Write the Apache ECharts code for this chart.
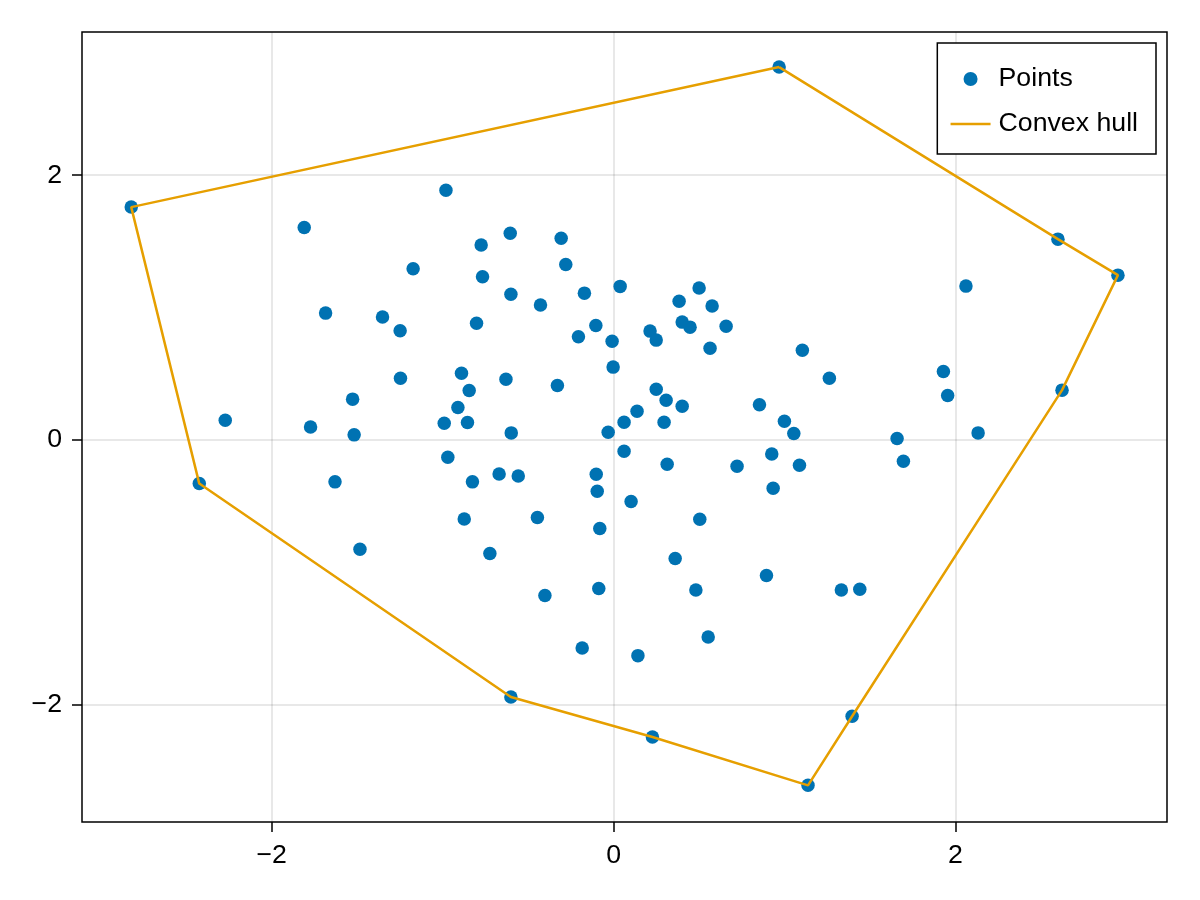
<!DOCTYPE html>
<html>
<head>
    <meta charset="utf-8">
    <title>Convex hull</title>
    <script src="https://cdn.jsdelivr.net/npm/echarts@6/dist/echarts.min.js"></script>
    <style>
        * {
            margin: 0;
            padding: 0;
        }
        body, html {
            background: #fff;
        }
        #main {
            width: 1200px;
            height: 900px;
        }
    </style>
</head>
<body>
<div id="main"></div>
<script>
    // random points
    var pointsX = [
        0.968, -2.822, -0.981, -1.810, -0.775, -0.605, -0.307, -1.173, -0.280, -0.767,
        -0.601, -0.171, 0.038, 0.500, 0.383, 0.576, -0.428, -1.685, -1.352, -1.249,
        -0.802, -0.104, -0.206, -0.009, 0.213, 0.249, 0.401, 0.447, 0.658, 0.564,
        1.104, 2.061, 2.599, 2.950, -0.003, 1.262, 1.929, -1.247, -0.890, -0.630,
        -0.329, 0.249, -0.845, -1.527, 0.307, 0.401, 0.853, 1.954, 2.623, -2.272,
        -0.911, 0.137, -0.991, -0.855, 0.061, 0.295, 0.999, -1.773, -1.518, -0.599,
        -0.032, 1.054, 2.132, 1.658, 0.061, -0.970, 1.695, 0.313, 0.722, 1.087,
        0.925, -0.102, -0.670, -0.558, -1.630, -2.424, -0.826, -0.096, 0.933, 0.102,
        -0.874, -0.446, 0.504, -0.081, -1.484, -0.724, 0.360, 0.894, -0.087, 0.481,
        1.332, 1.440, -0.402, 0.553, -0.184, 0.142, -0.601, 0.227, 1.395, 1.137
    ];
    var pointsY = [
        2.817, 1.759, 1.887, 1.605, 1.472, 1.562, 1.524, 1.293, 1.326, 1.232,
        1.101, 1.109, 1.160, 1.147, 1.048, 1.011, 1.020, 0.958, 0.928, 0.824,
        0.882, 0.865, 0.779, 0.746, 0.822, 0.754, 0.890, 0.852, 0.859, 0.693,
        0.678, 1.162, 1.517, 1.245, 0.550, 0.466, 0.517, 0.466, 0.504, 0.459,
        0.411, 0.383, 0.373, 0.308, 0.300, 0.255, 0.265, 0.336, 0.376, 0.149,
        0.245, 0.217, 0.126, 0.132, 0.134, 0.134, 0.141, 0.098, 0.038, 0.053,
        0.058, 0.048, 0.053, 0.011, -0.085, -0.131, -0.161, -0.184, -0.199, -0.191,
        -0.106, -0.259, -0.257, -0.272, -0.317, -0.330, -0.317, -0.388, -0.365, -0.466,
        -0.597, -0.587, -0.599, -0.670, -0.826, -0.859, -0.896, -1.024, -1.123, -1.134,
        -1.134, -1.129, -1.176, -1.489, -1.572, -1.630, -1.943, -2.245, -2.088, -2.610
    ];

    // hull vertices, closed
    var hullX = [0.968, 2.599, 2.950, 2.623, 1.395, 1.137, 0.227, -0.601, -2.424, -2.822, 0.968];
    var hullY = [2.817, 1.517, 1.245, 0.376, -2.088, -2.610, -2.245, -1.943, -0.330, 1.759, 2.817];

    var xTicks = [-2, 0, 2];
    var yTicks = [-2, 0, 2];

    var font = 'Liberation Sans';
    var fontSize = 26.7;

    var points = [];
    for (var i = 0; i < pointsX.length; i++) {
        points.push([pointsX[i], pointsY[i]]);
    }
    var hull = [];
    for (var j = 0; j < hullX.length; j++) {
        hull.push([hullX[j], hullY[j]]);
    }

    function minus(v) {
        return String(v).replace('-', '\u2212');
    }

    var chart = echarts.init(document.getElementById('main'));
    var option = {
        animation: false,
        backgroundColor: '#fff',
        grid: {
            left: 82,
            right: 33,
            top: 32,
            bottom: 78,
            show: true,
            borderColor: '#000',
            borderWidth: 1.5,
            backgroundColor: 'transparent'
        },
        legend: {
            right: 44,
            top: 43,
            orient: 'vertical',
            align: 'left',
            backgroundColor: '#fff',
            borderColor: '#000',
            borderWidth: 1.5,
            borderRadius: 0,
            padding: [22, 18, 16, 12],
            itemGap: 17,
            itemWidth: 40,
            itemHeight: 14,
            textStyle: {
                fontFamily: font,
                fontSize: fontSize,
                lineHeight: 28,
                color: '#000',
                padding: [0, 0, 0, 3]
            },
            data: [
                {name: 'Points', icon: 'circle'},
                {
                    name: 'Convex hull',
                    itemStyle: {color: 'rgba(0,0,0,0)', borderWidth: 0, opacity: 0},
                    lineStyle: {color: '#E69F00', width: 2.5}
                }
            ]
        },
        xAxis: {
            type: 'value',
            min: -3.11,
            max: 3.237,
            axisLine: {show: false, onZero: false},
            axisTick: {
                show: true,
                inside: false,
                length: 10,
                customValues: xTicks,
                lineStyle: {color: '#000', width: 1.5}
            },
            axisLabel: {
                customValues: xTicks,
                margin: 20,
                fontFamily: font,
                fontSize: fontSize,
                color: '#000',
                formatter: minus
            },
            splitLine: {
                show: true,
                lineStyle: {color: 'rgba(0,0,0,0.12)', width: 1.5}
            }
        },
        yAxis: {
            type: 'value',
            min: -2.887,
            max: 3.082,
            axisLine: {show: false, onZero: false},
            axisTick: {
                show: true,
                inside: false,
                length: 10,
                customValues: yTicks,
                lineStyle: {color: '#000', width: 1.5}
            },
            axisLabel: {
                customValues: yTicks,
                margin: 20,
                fontFamily: font,
                fontSize: fontSize,
                color: '#000',
                formatter: minus
            },
            splitLine: {
                show: true,
                lineStyle: {color: 'rgba(0,0,0,0.12)', width: 1.5}
            }
        },
        series: [
            {
                name: 'Points',
                type: 'scatter',
                symbol: 'circle',
                symbolSize: 13.5,
                itemStyle: {color: '#0072B2', opacity: 1},
                z: 2,
                data: points
            },
            {
                name: 'Convex hull',
                type: 'line',
                showSymbol: false,
                symbol: 'none',
                lineStyle: {color: '#E69F00', width: 2.5},
                itemStyle: {color: '#E69F00'},
                z: 3,
                data: hull
            }
        ]
    };
    chart.setOption(option);
</script>
</body>
</html>
